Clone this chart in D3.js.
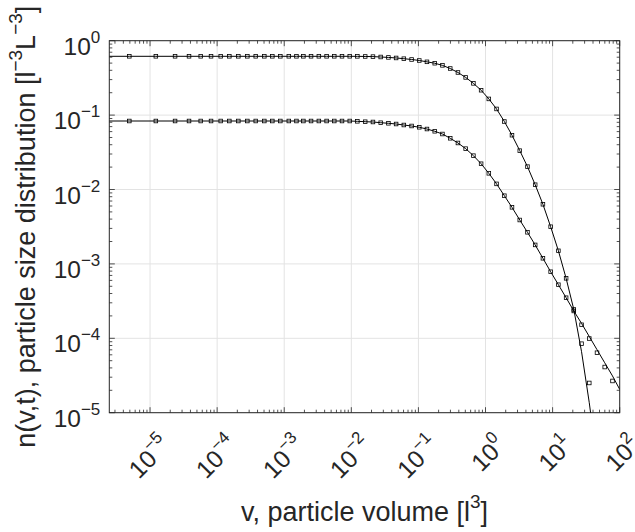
<!DOCTYPE html>
<html>
<head>
<meta charset="utf-8">
<script src="https://cdn.jsdelivr.net/npm/d3@7"></script>
<style>
  body { margin: 0; background: #fff; }
  text { font-family: "Liberation Sans", Arial, Helvetica, sans-serif; fill: #262626; }
</style>
</head>
<body>
<div id="canvas"></div>
<script>
// particle volume where the numerical solution is sampled (markers)
const vMarks = [4.91e-6, 1.22e-5, 2.36e-5, 3.81e-5, 5.69e-5, 8.11e-5, 1.13e-4, 1.52e-4,
  2.07e-4, 2.82e-4, 3.76e-4, 5.05e-4, 6.65e-4, 8.75e-4, 1.17e-3, 1.52e-3,
  1.93e-3, 2.51e-3, 3.28e-3, 4.28e-3, 5.57e-3, 7.26e-3, 9.47e-3, 0.0123, 0.0161, 0.0210,
  0.0274, 0.0357, 0.0465, 0.0606, 0.0791, 0.103, 0.134, 0.175, 0.228, 0.298, 0.388,
  0.506, 0.660, 0.860, 1.12, 1.46, 1.91, 2.48, 3.24, 4.22, 5.50, 7.17, 9.35, 12.2,
  15.9, 20.7, 27.0, 35.2, 45.9, 59.8, 78.1];

const topMarks = [0.617, 0.617, 0.617, 0.617, 0.617, 0.617, 0.617, 0.617, 0.617, 0.617,
  0.617, 0.617, 0.617, 0.617, 0.617, 0.617, 0.617, 0.617, 0.617, 0.617, 0.617, 0.617,
  0.617, 0.616, 0.614, 0.611, 0.604, 0.596, 0.586, 0.573, 0.559, 0.542, 0.520, 0.498,
  0.466, 0.423, 0.374, 0.321, 0.267, 0.216, 0.165, 0.121, 0.082, 0.0537, 0.0333, 0.0203,
  0.0116, 0.00633, 0.00316, 0.00150, 6.40e-4, 2.44e-4, 8.46e-5, 2.51e-5, null, null, null];

const botMarks = [0.0833, 0.0833, 0.0833, 0.0833, 0.0833, 0.0833, 0.0833, 0.0833, 0.0833,
  0.0833, 0.0833, 0.0833, 0.0833, 0.0833, 0.0833, 0.0833, 0.0833, 0.0833, 0.0833, 0.0833,
  0.0833, 0.0833, 0.0833, 0.0825, 0.0815, 0.0808, 0.0790, 0.0776, 0.0759, 0.0736, 0.0714,
  0.0686, 0.0650, 0.0606, 0.0557, 0.0488, 0.0422, 0.0354, 0.0285, 0.0222, 0.0165, 0.0119,
  0.00825, 0.00576, 0.00389, 0.00266, 0.00180, 0.00119, 7.85e-4, 5.25e-4, 3.51e-4,
  2.33e-4, 1.52e-4, 9.93e-5, 6.40e-5, 4.11e-5, 2.67e-5];

// analytic solution (solid lines)
const vLine = [2.47e-6, 4.91e-6, 1.22e-5, 2.36e-5, 3.81e-5, 5.69e-5, 8.11e-5, 1.13e-4, 1.52e-4,
  2.07e-4, 2.82e-4, 3.76e-4, 5.05e-4, 6.65e-4, 8.75e-4, 1.17e-3, 1.52e-3,
  1.93e-3, 2.51e-3, 3.28e-3, 4.28e-3, 5.57e-3, 7.26e-3, 9.47e-3, 0.0123, 0.0161, 0.0210,
  0.0274, 0.0357, 0.0465, 0.0606, 0.0791, 0.103, 0.134, 0.175, 0.228, 0.298, 0.388,
  0.506, 0.660, 0.860, 1.12, 1.46, 1.91, 2.48, 3.24, 4.22, 5.50, 7.17, 9.35, 12.2,
  15.9, 20.7, 27.0, 35.2, 45.9, 59.8, 78.1, 100];

const topLine = [0.617, 0.617, 0.617, 0.617, 0.617, 0.617, 0.617, 0.617, 0.617, 0.617, 0.617,
  0.617, 0.617, 0.617, 0.617, 0.617, 0.617, 0.617, 0.617, 0.617, 0.617, 0.617, 0.617,
  0.617, 0.616, 0.614, 0.611, 0.604, 0.596, 0.586, 0.573, 0.559, 0.542, 0.520, 0.498,
  0.466, 0.423, 0.374, 0.321, 0.267, 0.216, 0.165, 0.121, 0.082, 0.0537, 0.0333, 0.0203,
  0.0116, 0.00633, 0.00316, 0.00150, 6.40e-4, 2.44e-4, 6.6e-5, 1.36e-5, 2.2e-6, null, null, null];

const botLine = [0.0833, 0.0833, 0.0833, 0.0833, 0.0833, 0.0833, 0.0833, 0.0833, 0.0833, 0.0833,
  0.0833, 0.0833, 0.0833, 0.0833, 0.0833, 0.0833, 0.0833, 0.0833, 0.0833, 0.0833,
  0.0833, 0.0833, 0.0833, 0.0833, 0.0825, 0.0815, 0.0808, 0.0790, 0.0776, 0.0759, 0.0736, 0.0714,
  0.0686, 0.0650, 0.0606, 0.0557, 0.0488, 0.0422, 0.0354, 0.0285, 0.0222, 0.0165, 0.0119,
  0.00825, 0.00576, 0.00389, 0.00266, 0.00180, 0.00119, 7.85e-4, 5.25e-4, 3.51e-4,
  2.33e-4, 1.585e-4, 1.057e-4, 7.03e-5, 4.69e-5, 3.12e-5, 2.06e-5];

const xDomain = [2.47e-6, 100];
const yDomain = [1e-5, 1];
const xExponents = ["\u22125", "\u22124", "\u22123", "\u22122", "\u22121", "0", "1", "2"];
const yExponents = ["0", "\u22121", "\u22122", "\u22123", "\u22124", "\u22125"];

const width = 635, height = 532;
const margin = { top: 40.7, left: 109.3, bottom: 119.3, right: 15.3 };
const iwidth = width - margin.left - margin.right;
const iheight = height - margin.top - margin.bottom;
const ink = "#262626";

const expValue = e => Math.pow(10, +e.replace("\u2212", "-"));

const svg = d3.select("#canvas").append("svg")
  .attr("width", width).attr("height", height);

const x = d3.scaleLog().domain(xDomain).range([0, iwidth]);
const y = d3.scaleLog().domain(yDomain).range([iheight, 0]);

const g = svg.append("g").attr("transform", `translate(${margin.left},${margin.top})`);

svg.append("clipPath").attr("id", "clip")
  .append("rect").attr("width", iwidth).attr("height", iheight)
  .attr("x", margin.left).attr("y", margin.top);

// grid at decades
const xMajor = xExponents.map(expValue);
const yMajor = yExponents.map(expValue);

g.selectAll(".gx").data(xMajor).enter().append("line")
  .attr("x1", d => x(d)).attr("x2", d => x(d))
  .attr("y1", 0).attr("y2", iheight)
  .attr("stroke", "#e3e3e3").attr("stroke-width", 1);
g.selectAll(".gy").data(yMajor).enter().append("line")
  .attr("y1", d => y(d)).attr("y2", d => y(d))
  .attr("x1", 0).attr("x2", iwidth)
  .attr("stroke", "#e3e3e3").attr("stroke-width", 1);

// ticks, inward, on all four sides
const xTicks = x.ticks().filter(d => d >= xDomain[0] && d <= xDomain[1]);
const yTicks = y.ticks().filter(d => d >= yDomain[0] && d <= yDomain[1]);
const isMajor = d => Math.abs(Math.log10(d) - Math.round(Math.log10(d))) < 1e-6;
const tl = d => isMajor(d) ? 5.5 : 3;

xTicks.forEach(d => {
  g.append("line").attr("x1", x(d)).attr("x2", x(d))
    .attr("y1", iheight).attr("y2", iheight - tl(d)).attr("stroke", ink).attr("stroke-width", 0.8);
  g.append("line").attr("x1", x(d)).attr("x2", x(d))
    .attr("y1", 0).attr("y2", tl(d)).attr("stroke", ink).attr("stroke-width", 0.8);
});
yTicks.forEach(d => {
  g.append("line").attr("y1", y(d)).attr("y2", y(d))
    .attr("x1", 0).attr("x2", tl(d)).attr("stroke", ink).attr("stroke-width", 0.8);
  g.append("line").attr("y1", y(d)).attr("y2", y(d))
    .attr("x1", iwidth).attr("x2", iwidth - tl(d)).attr("stroke", ink).attr("stroke-width", 0.8);
});

g.append("rect").attr("width", iwidth).attr("height", iheight)
  .attr("fill", "none").attr("stroke", ink).attr("stroke-width", 1);

// curves
const plot = svg.append("g").attr("clip-path", "url(#clip)")
  .append("g").attr("transform", `translate(${margin.left},${margin.top})`);

const line = d3.line()
  .defined(d => d[1] != null)
  .x(d => x(d[0])).y(d => y(d[1]));

[topLine, botLine].forEach(vals => {
  plot.append("path")
    .datum(vLine.map((v, i) => [v, vals[i]]))
    .attr("d", line)
    .attr("fill", "none").attr("stroke", "#000").attr("stroke-width", 1);
});

const ms = 3.6;
[topMarks, botMarks].forEach(vals => {
  plot.selectAll(null)
    .data(vMarks.map((v, i) => [v, vals[i]]).filter(d => d[1] != null))
    .enter().append("rect")
    .attr("x", d => x(d[0]) - ms / 2).attr("y", d => y(d[1]) - ms / 2)
    .attr("width", ms).attr("height", ms)
    .attr("fill", "none").attr("stroke", "#000").attr("stroke-width", 0.8);
});

// tick labels
function pow10(sel, exp, size, sup, rise) {
  sel.append("tspan").attr("font-size", size).text("10");
  sel.append("tspan").attr("font-size", sup).attr("dy", -rise).text(exp);
}

xExponents.forEach(e => {
  const t = svg.append("text")
    .attr("text-anchor", "end")
    .attr("transform", `translate(${margin.left + x(expValue(e)) + 22},${margin.top + iheight + 34}) rotate(-45)`);
  pow10(t, e, 24.5, 17, 12);
});

yExponents.forEach(e => {
  const t = svg.append("text")
    .attr("text-anchor", "end")
    .attr("x", margin.left - 9)
    .attr("y", margin.top + y(expValue(e)) + 14);
  pow10(t, e, 24.5, 17, 12);
});

// axis titles
const xt = svg.append("text").attr("text-anchor", "middle")
  .attr("x", margin.left + iwidth / 2).attr("y", 521).attr("font-size", 27);
xt.append("tspan").text("v, particle volume [l");
xt.append("tspan").attr("font-size", 19).attr("dy", -13).text("3");
xt.append("tspan").attr("dy", 13).text("]");

const yt = svg.append("text").attr("text-anchor", "middle")
  .attr("transform", `translate(35,${margin.top + iheight / 2}) rotate(-90)`)
  .attr("font-size", 27);
yt.append("tspan").text("n(v,t), particle size distribution [l");
yt.append("tspan").attr("font-size", 19).attr("dy", -13).text("\u22123");
yt.append("tspan").attr("dy", 13).text("L");
yt.append("tspan").attr("font-size", 19).attr("dy", -13).text("\u22123");
yt.append("tspan").attr("dy", 13).text("]");
</script>
</body>
</html>
